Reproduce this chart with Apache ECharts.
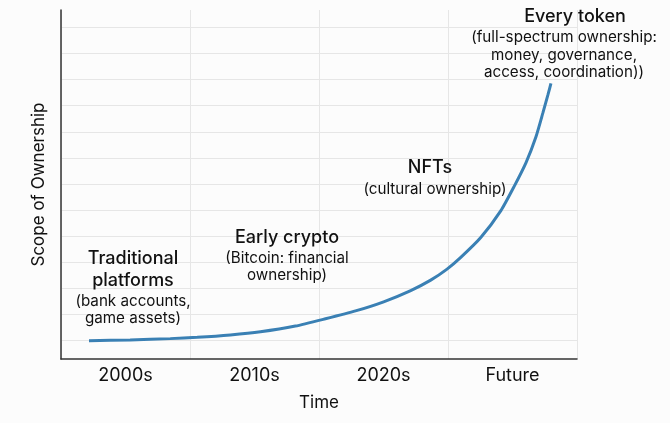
<!DOCTYPE html>
<html>
<head>
<meta charset="utf-8">
<script src="https://cdn.jsdelivr.net/npm/echarts@6/dist/echarts.min.js"></script>
<style>
html,body{margin:0;padding:0;background:#fcfcfc;}
#c{width:670px;height:423px;}
</style>
</head>
<body>
<div id="c"></div>
<script>
// Data
var categories = ['2000s', '2010s', '2020s', 'Future'];
// curve position along time (in category-band units, 0..4) and scope value
var curveTime  = [0.217, 0.536, 0.847, 1.056, 1.313, 1.546, 1.817, 2.050, 2.283, 2.501, 2.711, 2.866, 2.990, 3.099, 3.254, 3.410, 3.511, 3.604, 3.682, 3.736, 3.775, 3.798];
var curveScope = [0.00, 0.03, 0.08, 0.13, 0.22, 0.34, 0.56, 0.84, 1.14, 1.49, 1.92, 2.32, 2.73, 3.19, 3.95, 4.98, 5.89, 6.81, 7.81, 8.73, 9.42, 9.85];
var annotations = [
  {title: ['Traditional', 'platforms'], note: ['(bank accounts,', 'game assets)']},
  {title: ['Early crypto'], note: ['(Bitcoin: financial', 'ownership)']},
  {title: ['NFTs'], note: ['(cultural ownership)']},
  {title: ['Every token'], note: ['(full-spectrum ownership:', 'money, governance,', 'access, coordination))']}
];
var axisNames = {x: 'Time', y: 'Scope of Ownership'};

var FONT = 'Inter, "Noto Sans", sans-serif';
var chart = echarts.init(document.getElementById('c'), null, {renderer: 'canvas'});

var curve = curveTime.map(function (t, i) { return [t, curveScope[i]]; });

// annotation placement (pixels)
var annPos = [
  {x: 133, y: 259, noteX: 133, noteY: 301},
  {x: 287, y: 238, noteX: 287, noteY: 258},
  {x: 430, y: 168, noteX: 435, noteY: 189},
  {x: 575, y: 17,  noteX: 564, noteY: 37.5}
];
var graphics = [];
annotations.forEach(function (a, i) {
  var p = annPos[i];
  a.title.forEach(function (t, k) {
    graphics.push({type: 'text', x: p.x, y: p.y + k * 22, z: 10,
      style: {text: t, x: 0, y: 0, textAlign: 'center', textVerticalAlign: 'middle',
        font: '500 18px ' + FONT, fill: '#111'}});
  });
  a.note.forEach(function (t, k) {
    graphics.push({type: 'text', x: p.noteX, y: p.noteY + k * 17.6, z: 10,
      style: {text: t, x: 0, y: 0, textAlign: 'center', textVerticalAlign: 'middle',
        font: '15.2px ' + FONT, fill: '#111'}});
  });
});

chart.setOption({
  backgroundColor: '#fcfcfc',
  animation: false,
  grid: [
    {left: 61, right: 93, top: 10, bottom: 64},
    {left: 61, right: 93, top: 27.3, bottom: 82.3}
  ],
  xAxis: [
    {type: 'category', gridIndex: 0, data: categories, boundaryGap: true,
      axisLine: {show: true, onZero: false, lineStyle: {color: '#333', width: 1.5}},
      axisTick: {show: false},
      axisLabel: {color: '#111', fontSize: 18, fontFamily: FONT, margin: 8},
      splitLine: {show: true, lineStyle: {color: '#e6e6e6', width: 1}},
      name: axisNames.x, nameLocation: 'middle', nameGap: 35,
      nameTextStyle: {color: '#111', fontSize: 17, fontFamily: FONT}},
    {type: 'value', gridIndex: 0, min: 0, max: 4, show: false},
    {type: 'value', gridIndex: 1, min: 0, max: 4, show: false}
  ],
  yAxis: [
    {type: 'value', gridIndex: 0, min: -0.7, max: 12.66,
      axisLine: {show: true, onZero: false, lineStyle: {color: '#333', width: 1.5}},
      axisTick: {show: false}, axisLabel: {show: false}, splitLine: {show: false},
      name: axisNames.y, nameLocation: 'middle', nameGap: 14,
      nameTextStyle: {color: '#111', fontSize: 17, fontFamily: FONT}},
    {type: 'value', gridIndex: 1, min: 0, max: 12, interval: 1,
      axisLine: {show: false}, axisTick: {show: false}, axisLabel: {show: false},
      splitLine: {show: true, lineStyle: {color: '#e6e6e6', width: 1}}}
  ],
  series: [
    {type: 'line', xAxisIndex: 1, yAxisIndex: 0, data: curve, smooth: 0.2,
      showSymbol: false, z: 5,
      lineStyle: {color: '#3a80b4', width: 3}},
    {type: 'line', xAxisIndex: 2, yAxisIndex: 1, data: [], silent: true}
  ],
  graphic: graphics
});
</script>
</body>
</html>
